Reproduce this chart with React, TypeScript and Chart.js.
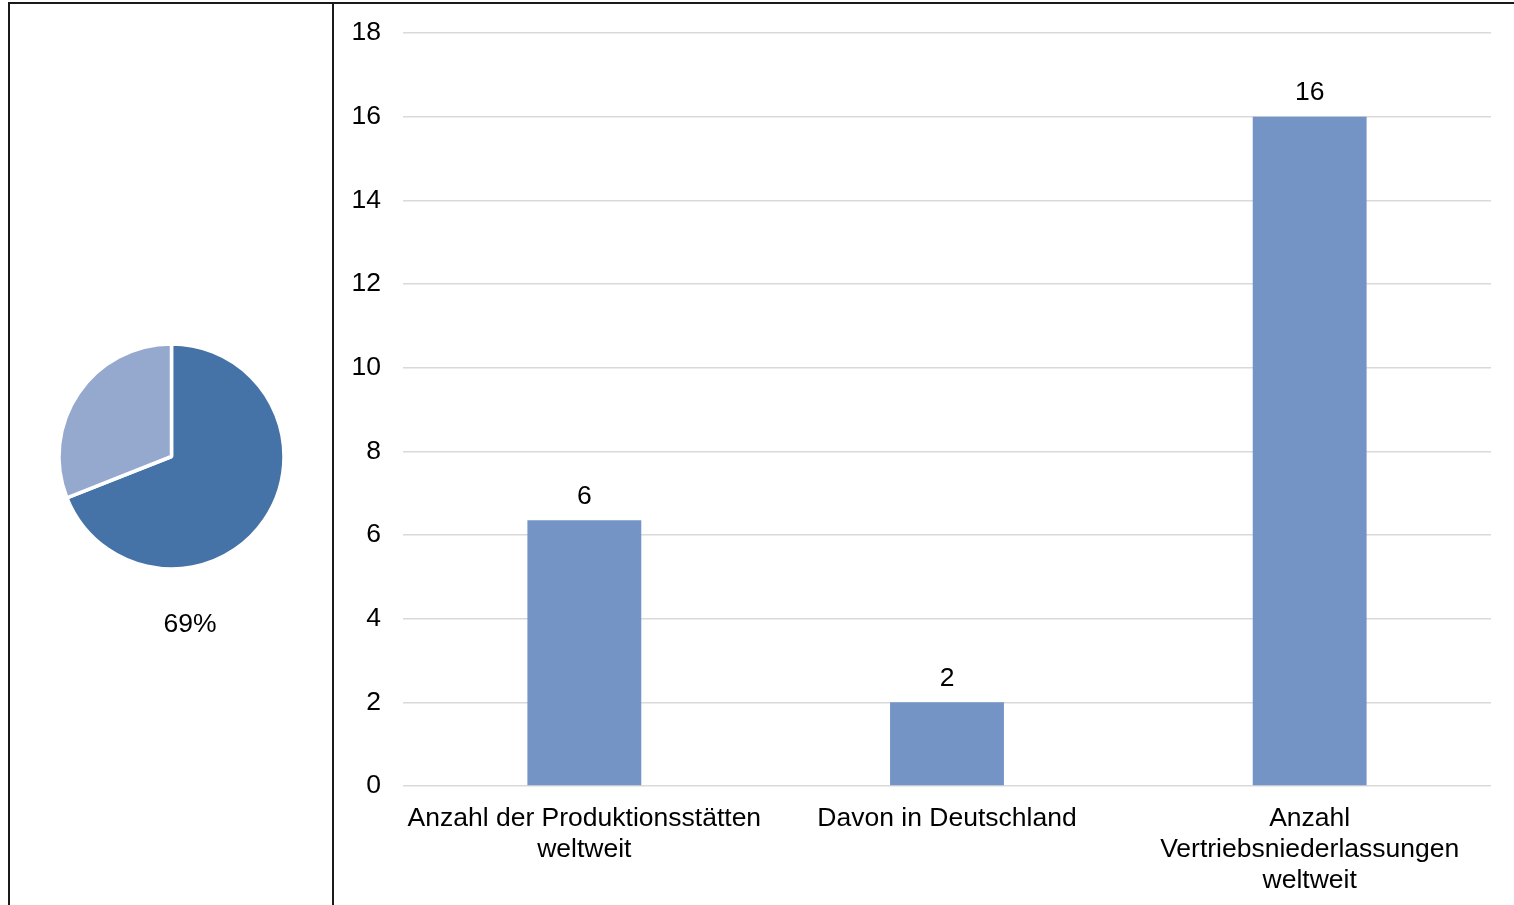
import React, { useEffect, useRef } from "react";
import { Chart, registerables } from "chart.js";

Chart.register(...registerables);

const pieLabels = ["Anteil", "Rest"];
const pieValues = [69, 31];
const pieColors = ["#4673A7", "#95A9CF"];

const barCategories: string[][] = [
  ["Anzahl der Produktionsstätten", "weltweit"],
  ["Davon in Deutschland"],
  ["Anzahl", "Vertriebsniederlassungen", "weltweit"],
];
const barValues = [6.35, 2, 16];
const barValueLabels = ["6", "2", "16"];
const yTicks = [0, 2, 4, 6, 8, 10, 12, 14, 16, 18];

const FONT = "'Liberation Sans', Arial, sans-serif";
const FS = 26.5;

export default function App() {
  const pieRef = useRef<HTMLCanvasElement>(null);
  const barRef = useRef<HTMLCanvasElement>(null);

  useEffect(() => {
    const pieLabelPlugin = {
      id: "pieLabel",
      afterDraw(chart: any) {
        const arc = chart.getDatasetMeta(0).data[0];
        if (!arc) return;
        const ctx = chart.ctx;
        ctx.save();
        ctx.fillStyle = "#000";
        ctx.font = `${FS}px ${FONT}`;
        ctx.textAlign = "center";
        ctx.textBaseline = "alphabetic";
        ctx.fillText(`${pieValues[0]}%`, arc.x + 18.5, arc.y + 175);
        ctx.restore();
      },
    };

    const pie = new Chart(pieRef.current!, {
      type: "pie",
      data: {
        labels: pieLabels,
        datasets: [
          {
            data: pieValues,
            backgroundColor: pieColors,
            borderColor: "#ffffff",
            borderWidth: 3.5,
          },
        ],
      },
      options: {
        animation: false,
        responsive: false,
        radius: 112.5,
        layout: { padding: { left: 47, right: 47, top: 338, bottom: 330 } },
        plugins: { legend: { display: false }, tooltip: { enabled: false } },
      } as any,
      plugins: [pieLabelPlugin],
    });

    const valueLabelPlugin = {
      id: "valueLabels",
      afterDatasetsDraw(chart: any) {
        const ctx = chart.ctx;
        const meta = chart.getDatasetMeta(0);
        ctx.save();
        ctx.fillStyle = "#000";
        ctx.font = `${FS}px ${FONT}`;
        ctx.textAlign = "center";
        ctx.textBaseline = "alphabetic";
        meta.data.forEach((bar: any, i: number) => {
          ctx.fillText(barValueLabels[i], bar.x, bar.y - 16.5);
        });
        ctx.restore();
      },
    };

    const bar = new Chart(barRef.current!, {
      type: "bar",
      data: {
        labels: barCategories,
        datasets: [
          {
            data: barValues,
            backgroundColor: "#7494C5",
            categoryPercentage: 1,
            barPercentage: 0.314,
          },
        ],
      },
      options: {
        animation: false,
        responsive: false,
        layout: { padding: { left: 0, right: 23, top: 28, bottom: 0 } },
        plugins: { legend: { display: false }, tooltip: { enabled: false } },
        scales: {
          x: {
            grid: { display: false, drawTicks: false },
            border: { display: false },
            ticks: {
              color: "#000",
              font: { family: FONT, size: FS, lineHeight: 31 / FS },
              padding: 17.5,
              maxRotation: 0,
              autoSkip: false,
            },
            afterFit(scale: any) {
              scale.height = 119;
            },
          },
          y: {
            min: 0,
            max: 18,
            afterBuildTicks(scale: any) {
              scale.ticks = yTicks.map((v) => ({ value: v }));
            },
            grid: { color: "#d9d9d9", lineWidth: 1.6, drawTicks: false },
            border: { display: false },
            ticks: {
              color: "#000",
              font: { family: FONT, size: FS },
              padding: 22,
            },
            afterFit(scale: any) {
              scale.width = 68;
              scale.paddingTop = 0;
              scale.paddingBottom = 0;
            },
          },
        },
      } as any,
      plugins: [valueLabelPlugin],
    });

    return () => {
      pie.destroy();
      bar.destroy();
    };
  }, []);

  const line = "#1a1a1a";
  return (
    <div
      style={{
        position: "fixed",
        left: 0,
        top: 0,
        width: 1514,
        height: 905,
        overflow: "hidden",
        background: "#fff",
      }}
    >
      <div style={{ position: "absolute", left: 8, top: 2, width: 1506, height: 2, background: line }} />
      <div style={{ position: "absolute", left: 8, top: 2, width: 2, height: 903, background: line }} />
      <div style={{ position: "absolute", left: 332, top: 2, width: 2, height: 903, background: line }} />
      <canvas
        ref={pieRef}
        width={321}
        height={895}
        style={{ position: "absolute", left: 11, top: 5, width: 321, height: 895 }}
      />
      <canvas
        ref={barRef}
        width={1179}
        height={900}
        style={{ position: "absolute", left: 335, top: 5, width: 1179, height: 900 }}
      />
    </div>
  );
}
